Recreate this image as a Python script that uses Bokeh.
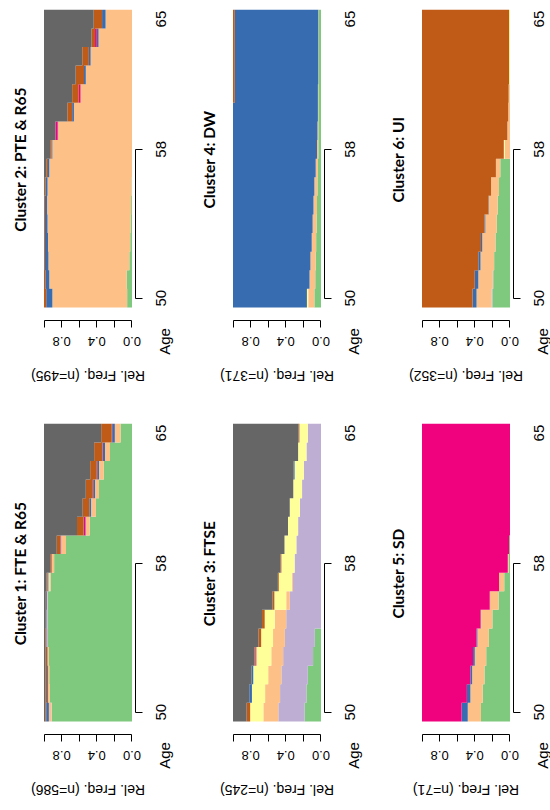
import math

from bokeh.embed import file_html
from bokeh.layouts import column, row
from bokeh.models import ColumnDataSource, FixedTicker, Label, LinearAxis, Range1d
from bokeh.plotting import figure
from bokeh.resources import INLINE

# Ages on the time axis
AGES = list(range(50, 66))

# State colours, in stacking order (from 0 upwards)
STATE_COLORS = ["#7FC97F", "#BEAED4", "#FDC086", "#FFFF99",
                "#386CB0", "#F0027F", "#BF5B17", "#666666"]

# Relative frequencies per age (rows: ages 50..65, columns: states in the order above)
cluster1_freq = [
    [.910, .005, .030, 0, .030, 0, .010, .015],
    [.935, 0, .020, 0, .010, 0, .020, .015],
    [.940, 0, .015, 0, .010, 0, .020, .015],
    [.945, 0, .015, 0, .005, 0, .020, .015],
    [.955, .010, .005, 0, .005, 0, .010, .015],
    [.960, .010, 0, 0, .005, 0, .005, .020],
    [.955, .005, .005, 0, .010, 0, .005, .020],
    [.925, 0, .015, .010, .010, 0, .010, .030],
    [.885, 0, .025, 0, .005, 0, .015, .070],
    [.750, 0, .055, 0, .005, .005, .040, .145],
    [.480, 0, .045, 0, .005, .020, .075, .375],
    [.410, 0, .055, 0, .020, 0, .075, .440],
    [.375, 0, .045, 0, .020, .005, .080, .475],
    [.320, 0, .055, 0, .020, .005, .075, .525],
    [.250, 0, .057, 0, .025, .005, .093, .570],
    [.130, 0, .065, 0, .030, .005, .120, .650],
]
cluster2_freq = [
    [.055, 0, .850, 0, .070, 0, .025, 0],
    [.060, 0, .880, 0, .045, 0, .015, 0],
    [.030, 0, .920, 0, .040, 0, .010, 0],
    [.020, 0, .935, 0, .035, 0, .010, 0],
    [.015, 0, .945, 0, .030, 0, .010, 0],
    [.010, 0, .955, 0, .025, 0, .010, 0],
    [.005, 0, .955, 0, .020, 0, .010, .010],
    [0, 0, .940, 0, .015, 0, .015, .030],
    [0, 0, .905, 0, .010, 0, .015, .070],
    [0, 0, .840, 0, .005, .025, 0, .130],
    [0, 0, .660, 0, .020, 0, .055, .265],
    [0, 0, .585, 0, 0, .020, .075, .320],
    [0, 0, .525, 0, .020, 0, .095, .360],
    [0, 0, .470, 0, .020, 0, .075, .435],
    [0, 0, .380, 0, .020, .020, .040, .540],
    [0, 0, .300, 0, .040, 0, .095, .565],
]
cluster3_freq = [
    [.185, .300, .170, .150, 0, 0, .040, .155],
    [.165, .300, .170, .150, .030, 0, 0, .185],
    [.150, .300, .150, .170, .020, 0, 0, .210],
    [.090, .340, .135, .170, 0, .010, .010, .245],
    [.070, .340, .135, .135, 0, 0, .030, .290],
    [0, .395, .130, .115, 0, 0, .030, .330],
    [0, .355, .040, .135, 0, 0, .020, .450],
    [0, .320, .010, .150, 0, 0, .010, .510],
    [0, .300, 0, .150, 0, 0, .010, .540],
    [0, .280, 0, .135, 0, 0, 0, .585],
    [0, .260, 0, .115, 0, 0, 0, .625],
    [0, .240, 0, .115, 0, 0, 0, .645],
    [0, .215, 0, .100, 0, 0, 0, .685],
    [0, .195, 0, .105, .010, 0, 0, .690],
    [0, .165, 0, .095, 0, 0, 0, .740],
    [0, .150, 0, .095, 0, 0, .010, .745],
]
cluster4_freq = [
    [.075, 0, .070, .015, .840, 0, 0, 0],
    [.065, 0, .065, 0, .870, 0, 0, 0],
    [.060, 0, .060, 0, .880, 0, 0, 0],
    [.055, 0, .050, 0, .895, 0, 0, 0],
    [.050, 0, .045, 0, .905, 0, 0, 0],
    [.045, 0, .040, 0, .915, 0, 0, 0],
    [.040, 0, .035, 0, .925, 0, 0, 0],
    [.035, 0, .025, 0, .940, 0, 0, 0],
    [.030, 0, .015, 0, .955, 0, 0, 0],
    [.030, 0, .010, 0, .960, 0, 0, 0],
    [.030, 0, .005, 0, .965, 0, 0, 0],
    [.030, 0, .005, 0, .945, 0, .020, 0],
    [.025, 0, .005, 0, .950, 0, .020, 0],
    [.025, 0, .005, 0, .950, 0, .020, 0],
    [.025, 0, .005, 0, .950, 0, .020, 0],
    [.025, 0, .005, 0, .950, 0, .020, 0],
]
cluster5_freq = [
    [.330, 0, .150, 0, .070, .450, 0, 0],
    [.310, 0, .140, 0, .040, .510, 0, 0],
    [.290, 0, .140, 0, .020, .550, 0, 0],
    [.270, 0, .130, 0, .020, .580, 0, 0],
    [.240, 0, .130, 0, .010, .620, 0, 0],
    [.200, 0, .130, 0, .005, .665, 0, 0],
    [.130, 0, .100, 0, 0, .770, 0, 0],
    [.065, 0, .060, 0, 0, .875, 0, 0],
    [.015, 0, .010, 0, 0, .975, 0, 0],
    [.010, 0, 0, 0, 0, .990, 0, 0],
    [0, 0, 0, 0, 0, 1, 0, 0],
    [0, 0, 0, 0, 0, 1, 0, 0],
    [0, 0, 0, 0, 0, 1, 0, 0],
    [0, 0, 0, 0, 0, 1, 0, 0],
    [0, 0, 0, 0, 0, 1, 0, 0],
    [0, 0, 0, 0, 0, 1, 0, 0],
]
cluster6_freq = [
    [.200, .010, .170, 0, .045, 0, .575, 0],
    [.190, .005, .165, 0, .040, 0, .600, 0],
    [.180, 0, .155, 0, .025, 0, .640, 0],
    [.165, 0, .150, 0, .015, 0, .670, 0],
    [.150, 0, .130, 0, .010, 0, .710, 0],
    [.140, 0, .100, 0, .005, 0, .755, 0],
    [.125, 0, .090, 0, 0, 0, .785, 0],
    [.110, 0, .050, 0, 0, 0, .840, 0],
    [0, 0, .060, .010, 0, 0, .930, 0],
    [0, 0, .030, 0, 0, 0, .970, 0],
    [0, 0, .020, 0, 0, 0, .980, 0],
    [0, 0, .010, .005, 0, 0, .985, 0],
    [0, 0, 0, .010, 0, 0, .990, 0],
    [0, 0, 0, .010, 0, 0, .990, 0],
    [0, 0, 0, .010, 0, 0, .990, 0],
    [0, 0, 0, .010, 0, 0, .990, 0],
]

CLUSTER_TITLES = ["Cluster 1: FTE & R65", "Cluster 2: PTE & R65", "Cluster 3: FTSE",
                  "Cluster 4: DW", "Cluster 5: SD", "Cluster 6: UI"]
CLUSTER_SIZES = [586, 495, 245, 371, 71, 352]
CLUSTER_FREQS = [cluster1_freq, cluster2_freq, cluster3_freq,
                 cluster4_freq, cluster5_freq, cluster6_freq]

FREQ_TICKS = [0, 0.2, 0.4, 0.6, 0.8, 1.0]
FREQ_LABELS = [0, 0.4, 0.8]
AGE_TICKS = [50, 58]
AGE_LABELS = [50, 58, 65]

# Plot region: relative frequency runs right-to-left, age runs bottom-to-top
X_LO, X_HI = -0.04, 1.04
Y_LO, Y_HI = 48.8, 66.0
REGION_LEFT, REGION_W, REGION_H = 40, 95, 320
PX_PER_X = REGION_W / (X_HI - X_LO)
PX_PER_Y = REGION_H / (Y_HI - Y_LO)

SANS = "Liberation Sans"
TITLE_FONT = "Lato"


def make_panel(idx, width, height):
    title = CLUSTER_TITLES[idx]
    n = CLUSTER_SIZES[idx]
    freq = CLUSTER_FREQS[idx]

    x_start = X_HI + REGION_LEFT / PX_PER_X
    x_end = x_start - width / PX_PER_X
    y_end = Y_HI
    y_start = Y_HI - height / PX_PER_Y

    def px_x(px):
        return x_start - px / PX_PER_X

    def px_y(py):
        return Y_HI - py / PX_PER_Y

    p = figure(width=width, height=height,
               x_range=Range1d(x_start, x_end), y_range=Range1d(y_start, y_end),
               x_axis_location=None, y_axis_location=None,
               toolbar_location=None, output_backend="svg", min_border=0)
    p.outline_line_color = None
    p.grid.visible = False
    p.background_fill_color = "white"
    p.border_fill_color = "white"

    # one stepped area per state, stacked from 0 towards 1
    base = [0.0] * len(AGES)
    xs, ys, colors = [], [], []
    for k, color in enumerate(STATE_COLORS):
        lo = list(base)
        for i in range(len(AGES)):
            base[i] += freq[i][k] / sum(freq[i])
        hi = list(base)
        if max(h - l for h, l in zip(hi, lo)) <= 0:
            continue
        px, py = [], []
        for i, age in enumerate(AGES):
            px += [lo[i], lo[i]]
            py += [age - 0.5, age + 0.5]
        for i in reversed(range(len(AGES))):
            px += [hi[i], hi[i]]
            py += [AGES[i] + 0.5, AGES[i] - 0.5]
        xs.append(px)
        ys.append(py)
        colors.append(color)
    p.patches(xs="xs", ys="ys", fill_color="color", line_color=None,
              source=ColumnDataSource(dict(xs=xs, ys=ys, color=colors)))

    # relative frequency axis
    xaxis = LinearAxis(fixed_location=Y_LO, bounds=(0, 1),
                       ticker=FixedTicker(ticks=[], minor_ticks=FREQ_TICKS))
    xaxis.axis_line_color = "black"
    xaxis.minor_tick_line_color = "black"
    xaxis.minor_tick_in = 0
    xaxis.minor_tick_out = 7
    p.add_layout(xaxis, "below")

    # age axis
    yaxis = LinearAxis(fixed_location=X_LO, bounds=(AGE_TICKS[0], AGE_TICKS[-1]),
                       ticker=FixedTicker(ticks=[], minor_ticks=AGE_TICKS))
    yaxis.axis_line_color = "black"
    yaxis.minor_tick_line_color = "black"
    yaxis.minor_tick_in = 0
    yaxis.minor_tick_out = 7
    p.add_layout(yaxis, "right")

    def text(x, y, s, angle, size, font=SANS, style="normal"):
        p.add_layout(Label(x=x, y=y, text=s, angle=angle,
                           text_align="center", text_baseline="middle",
                           text_font=font, text_font_size=size,
                           text_font_style=style, text_color="black"))

    for t in FREQ_LABELS:
        text(t, px_y(REGION_H + 20.5), f"{t:.1f}", math.pi, "13px")
    text(0.5, px_y(REGION_H + 55), f"Rel. Freq. (n={n})", math.pi, "14px")
    for a in AGE_LABELS:
        text(px_x(REGION_LEFT + REGION_W + 25), a, str(a), math.pi / 2, "15px")
    text(px_x(REGION_LEFT + REGION_W + 28.5), px_y(REGION_H + 21), "Age", math.pi / 2, "15px")
    text(px_x(19), px_y(159), title, math.pi / 2, "15.5px", TITLE_FONT, "bold")
    return p


top = row(make_panel(1, 189, 414), make_panel(3, 189, 414), make_panel(5, 172, 414))
bottom = row(make_panel(0, 189, 396), make_panel(2, 189, 396), make_panel(4, 172, 396))
layout = column(top, bottom)

with open("out.html", "w") as f:
    f.write(file_html(layout, INLINE))
